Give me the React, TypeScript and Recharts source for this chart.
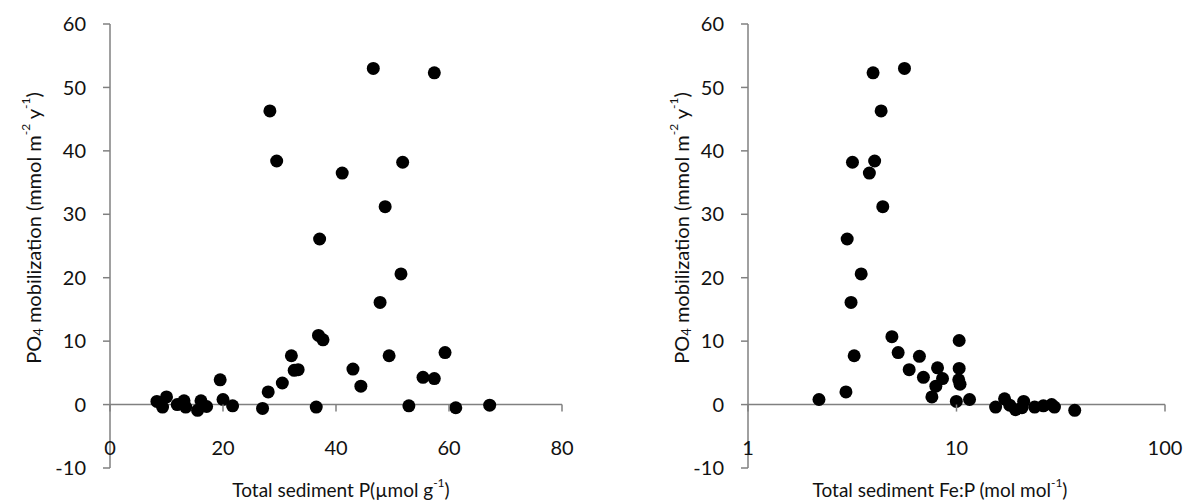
import React from 'react';
import { ScatterChart, Scatter, XAxis, YAxis, ReferenceLine } from 'recharts';

// Left panel: total sediment P (µmol g-1) vs PO4 mobilization
const sedimentP = [
  8.3, 9.3, 10.0, 11.9, 13.1, 13.4, 15.5, 16.1, 17.1, 19.5, 20.0, 21.7, 27.0, 28.0,
  28.3, 29.5, 30.5, 32.1, 32.6, 33.3, 36.5, 36.9, 37.1, 37.7, 41.1, 43.0, 44.4, 46.6,
  47.8, 48.7, 49.4, 51.5, 51.8, 52.9, 55.4, 57.4, 57.4, 59.3, 61.2, 67.2,
];
const po4Left = [
  0.5, -0.4, 1.2, 0.0, 0.6, -0.4, -0.9, 0.6, -0.3, 3.9, 0.8, -0.2, -0.6, 2.0,
  46.3, 38.4, 3.4, 7.7, 5.4, 5.5, -0.4, 10.9, 26.1, 10.2, 36.5, 5.6, 2.9, 53.0,
  16.1, 31.2, 7.7, 20.6, 38.2, -0.2, 4.3, 4.1, 52.3, 8.2, -0.5, -0.1,
];

// Right panel: total sediment Fe:P (mol mol-1) vs PO4 mobilization
const feP = [
  5.63, 3.98, 4.35, 3.17, 4.05, 3.82, 4.43, 2.99, 3.49, 3.12,
  2.19, 2.95, 3.23, 4.9, 5.25, 5.93, 6.64, 6.94, 8.11, 8.57, 7.96, 7.62,
  10.3, 10.3, 10.25, 10.4, 9.98, 11.55,
  15.4, 17.0, 18.0, 19.2, 21.0, 20.6, 23.7, 26.1, 28.6, 29.5, 36.9,
];
const po4Right = [
  53.0, 52.3, 46.3, 38.2, 38.4, 36.5, 31.2, 26.1, 20.6, 16.1,
  0.8, 2.0, 7.7, 10.7, 8.2, 5.5, 7.6, 4.3, 5.8, 4.1, 2.9, 1.2,
  10.1, 5.7, 3.9, 3.2, 0.5, 0.8,
  -0.4, 0.9, -0.1, -0.8, 0.5, -0.5, -0.4, -0.2, 0.0, -0.4, -0.9,
];

const pTicks = [0, 20, 40, 60, 80];
const feTicks = [1, 10, 100];
const yTicks = [-10, 0, 10, 20, 30, 40, 50, 60];

const leftData = sedimentP.map((x, i) => ({ x, y: po4Left[i] }));
const rightData = feP.map((x, i) => ({ x, y: po4Right[i] }));

const CHART_W = 597;
const CHART_H = 504;
const PLOT_TOP = 24;
const PLOT_BOTTOM = 468;
const Y_MIN = -10;
const Y_MAX = 60;
const ZERO_Y = PLOT_TOP + (Y_MAX / (Y_MAX - Y_MIN)) * (PLOT_BOTTOM - PLOT_TOP);
const AXIS = '#808080';
const FONT = 'Lato, "Open Sans", sans-serif';
const TEXT = '#111';
const FS = 20;

const XTick = (props: any) => {
  const { x, payload } = props;
  return (
    <g>
      <line x1={x} x2={x} y1={ZERO_Y} y2={ZERO_Y + 7} stroke={AXIS} strokeWidth={1.5} />
      <text x={x} y={447} textAnchor="middle" dominantBaseline="central" fontFamily={FONT} fontSize={FS} fill={TEXT}>
        {payload.value}
      </text>
    </g>
  );
};

const Dot = (props: any) => <circle cx={props.cx} cy={props.cy} r={6.5} fill="#000" />;

const YTitle = ({ cx, cy }: { cx: number; cy: number }) => (
  <text
    x={cx}
    y={cy}
    transform={`rotate(-90 ${cx} ${cy})`}
    textAnchor="middle"
    dominantBaseline="central"
    fontFamily={FONT}
    fontSize={20}
    fill={TEXT}
  >
    PO<tspan dy={5} fontSize={13}>4</tspan>
    <tspan dy={-5}> mobilization (mmol m</tspan>
    <tspan dy={-8} fontSize={12}>-2</tspan>
    <tspan dy={8}> y</tspan>
    <tspan dy={-8} fontSize={12}>-1</tspan>
    <tspan dy={8}>)</tspan>
  </text>
);

const XTitle = ({ cx, cy, main }: { cx: number; cy: number; main: string }) => (
  <text x={cx} y={cy} textAnchor="middle" dominantBaseline="central" fontFamily={FONT} fontSize={19} fill={TEXT}>
    {main}
    <tspan dy={-7} fontSize={12}>-1</tspan>
    <tspan dy={7}>)</tspan>
  </text>
);

const yAxisProps = {
  type: 'number' as const,
  dataKey: 'y',
  domain: [Y_MIN, Y_MAX],
  ticks: yTicks,
  interval: 0 as const,
  allowDataOverflow: true,
  axisLine: { stroke: AXIS, strokeWidth: 1.5 },
  tickLine: { stroke: AXIS, strokeWidth: 1.5 },
  tickSize: 7,
  tickMargin: 17,
  tick: { fill: TEXT, fontSize: FS, fontFamily: FONT },
};

export default function App() {
  return (
    <div style={{ position: 'absolute', left: 0, top: 0, width: 1194, height: 504, background: '#fff' }}>
      <div style={{ position: 'absolute', left: 0, top: 0 }}>
        <ScatterChart width={CHART_W} height={CHART_H} margin={{ top: PLOT_TOP, right: 35, bottom: 0, left: 0 }}>
          <XAxis
            type="number"
            dataKey="x"
            domain={[0, 80]}
            ticks={pTicks}
            interval={0}
            height={CHART_H - PLOT_BOTTOM}
            axisLine={false}
            tickLine={false}
            tick={<XTick />}
            label={<XTitle cx={341} cy={489} main="Total sediment P(µmol g" />}
          />
          <YAxis {...yAxisProps} width={110} label={<YTitle cx={33} cy={228} />} />
          <ReferenceLine y={0} stroke={AXIS} strokeWidth={1.5} />
          <Scatter data={leftData} shape={<Dot />} isAnimationActive={false} />
        </ScatterChart>
      </div>
      <div style={{ position: 'absolute', left: CHART_W, top: 0 }}>
        <ScatterChart width={CHART_W} height={CHART_H} margin={{ top: PLOT_TOP, right: 29, bottom: 0, left: 0 }}>
          <XAxis
            type="number"
            dataKey="x"
            scale="log"
            domain={[1, 100]}
            ticks={feTicks}
            interval={0}
            allowDataOverflow
            height={CHART_H - PLOT_BOTTOM}
            axisLine={false}
            tickLine={false}
            tick={<XTick />}
            label={<XTitle cx={343} cy={489} main="Total sediment Fe:P (mol mol" />}
          />
          <YAxis {...yAxisProps} width={151} label={<YTitle cx={84} cy={228} />} />
          <ReferenceLine y={0} stroke={AXIS} strokeWidth={1.5} />
          <Scatter data={rightData} shape={<Dot />} isAnimationActive={false} />
        </ScatterChart>
      </div>
    </div>
  );
}
